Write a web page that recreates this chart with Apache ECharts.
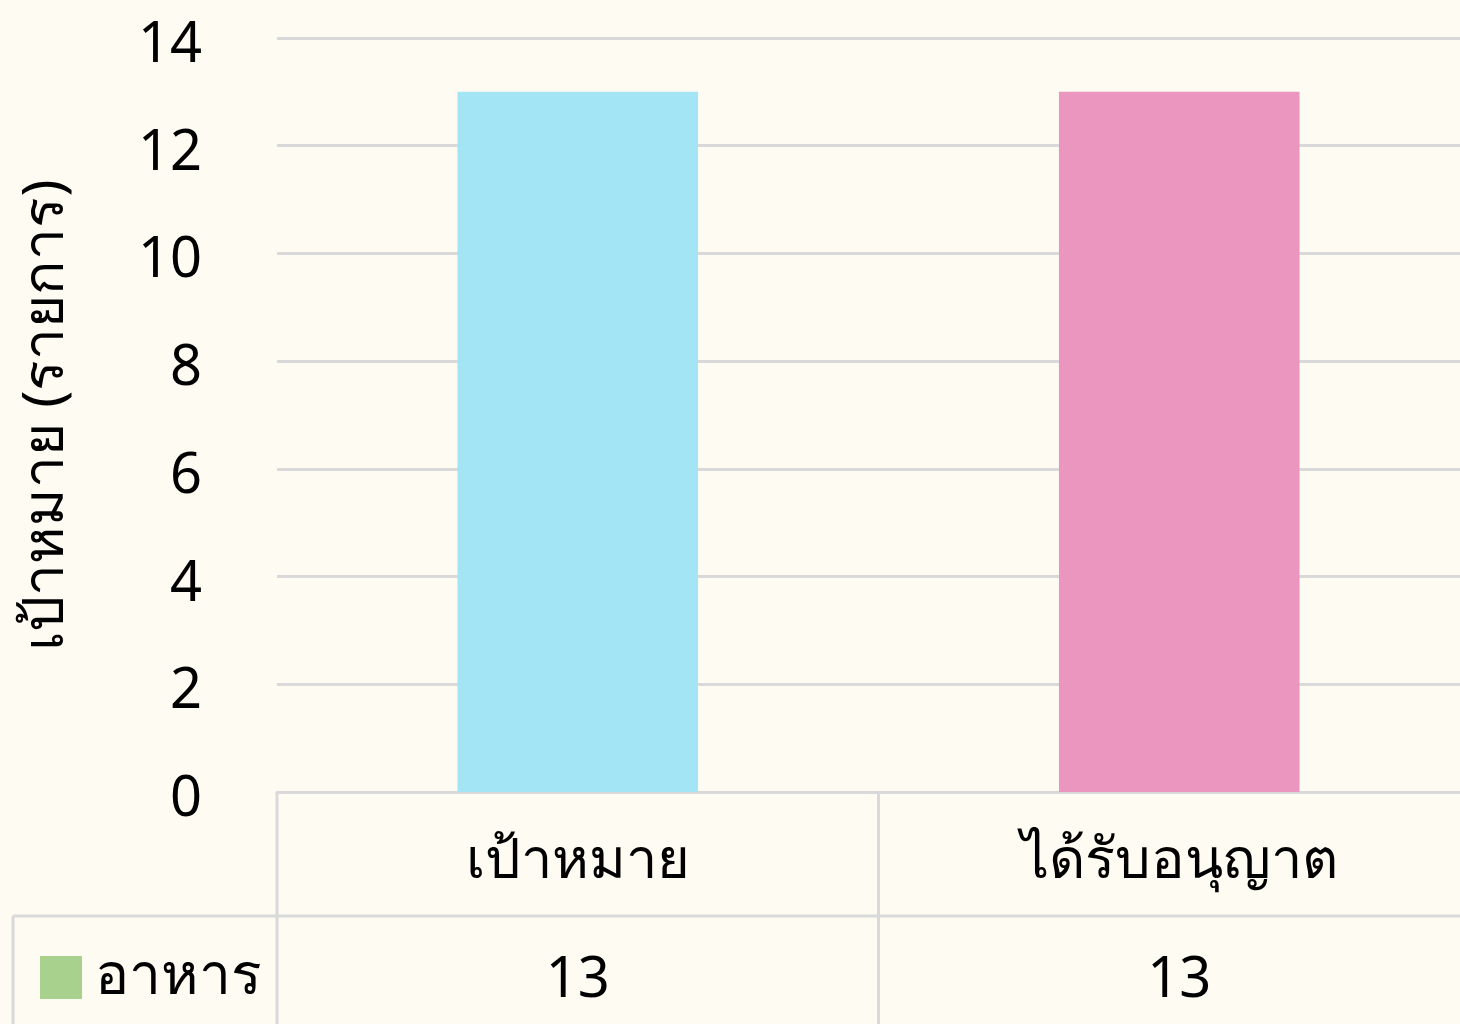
<!DOCTYPE html>
<html><head><meta charset="utf-8">
<script src="https://cdn.jsdelivr.net/npm/echarts@6/dist/echarts.min.js"></script>
<style>html,body{margin:0;padding:0;background:#FEFBF3;}#c{width:1460px;height:1024px;}</style>
</head><body><div id="c"></div>
<script>
const categories = ['เป้าหมาย', 'ได้รับอนุญาต'];
const seriesName = 'อาหาร';
const values = [13, 13];
const barColors = ['#A3E5F4', '#EA96BE'];
const legendColor = '#A9D18E';
const yTicks = [0, 2, 4, 6, 8, 10, 12, 14];
const yTitle = 'เป้าหมาย (รายการ)';

const FONT = 'Tahoma, "Noto Sans", "DejaVu Sans", sans-serif';
const chart = echarts.init(document.getElementById('c'));
const gridLine = '#D9D9D9';
const option = {
  backgroundColor: '#FEFBF3',
  animation: false,
  textStyle: {fontFamily: FONT, color: '#000'},
  grid: {left: 277, top: 38, width: 1203, height: 754, containLabel: false, outerBoundsMode: 'none'},
  legend: {
    left: 40, top: 949, padding: 0, itemWidth: 42, itemHeight: 43, itemGap: 12,
    icon: 'rect',
    textStyle: {fontSize: 57, fontFamily: FONT, color: '#000', padding: [0, 0, 0, 8]},
    data: [seriesName]
  },
  xAxis: [{
    type: 'category', data: categories, position: 'bottom',
    axisLine: {show: true, lineStyle: {color: gridLine, width: 3}},
    axisTick: {show: false},
    axisLabel: {fontSize: 56, color: '#000', margin: 40, lineHeight: 60, fontFamily: FONT}
  }, {
    type: 'category', data: categories, position: 'bottom', offset: 124,
    axisLine: {show: false}, axisTick: {show: false},
    axisLabel: {fontSize: 56, color: '#000', margin: 35, lineHeight: 60, fontFamily: FONT,
      formatter: (v, i) => String(values[i])}
  }],
  yAxis: {
    type: 'value', min: yTicks[0], max: yTicks[yTicks.length - 1], interval: 2,
    name: yTitle, nameLocation: 'middle', nameGap: 202,
    nameTextStyle: {fontSize: 57, color: '#000', fontFamily: FONT},
    axisLine: {show: false}, axisTick: {show: false},
    axisLabel: {fontSize: 56, color: '#000', margin: 75, fontFamily: FONT,
      verticalAlign: 'top', lineHeight: 16},
    splitLine: {lineStyle: {color: gridLine, width: 3}}
  },
  series: [{
    name: seriesName, type: 'bar', barWidth: '40%',
    itemStyle: {color: legendColor},
    data: values.map((v, i) => ({value: v, itemStyle: {color: barColors[i]}}))
  }]
};
chart.setOption(option);

// data table lines, placed from the axis scales
const y0 = chart.convertToPixel({yAxisIndex: 0}, 0);
const rowH = 124;
const c0 = chart.convertToPixel({xAxisIndex: 0}, 0);
const c1 = chart.convertToPixel({xAxisIndex: 0}, 1);
const half = (c1 - c0) / 2;
const xRight = c1 + half;
const ls = {stroke: gridLine, lineWidth: 3};
chart.setOption({graphic: [
  {type: 'line', shape: {x1: 13, y1: y0 + rowH, x2: xRight, y2: y0 + rowH}, style: ls},
  {type: 'line', shape: {x1: c0 - half, y1: y0, x2: c0 - half, y2: 1024}, style: ls},
  {type: 'line', shape: {x1: c0 + half, y1: y0, x2: c0 + half, y2: 1024}, style: ls},
  {type: 'line', shape: {x1: 13, y1: y0 + rowH, x2: 13, y2: 1024}, style: ls}
]});
</script></body></html>
